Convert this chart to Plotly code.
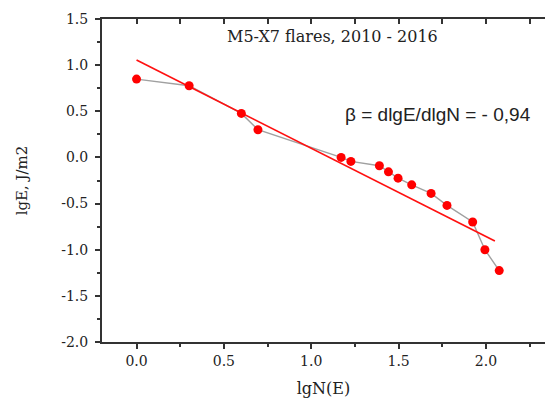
import plotly.graph_objects as go

lgN = [0.0, 0.301, 0.600, 0.695, 1.171, 1.227, 1.390, 1.442, 1.497, 1.575, 1.686, 1.777, 1.924, 1.994, 2.076]
lgE = [0.849, 0.777, 0.477, 0.30, 0.0, -0.043, -0.09, -0.156, -0.225, -0.297, -0.39, -0.52, -0.70, -1.0, -1.226]
fit_x = [0.0, 2.051]
fit_y = [1.055, -0.905]

title_text = "M5-X7 flares, 2010 - 2016"
beta_text = "β = dlgE/dlgN = - 0,94"
xtick_vals = [0.0, 0.5, 1.0, 1.5, 2.0]
xtick_text = ["0.0", "0.5", "1.0", "1.5", "2.0"]
ytick_vals = [1.5, 1.0, 0.5, 0.0, -0.5, -1.0, -1.5, -2.0]
ytick_text = ["1.5", "1.0", "0.5", "0.0", "-0.5", "-1.0", "-1.5", "-2.0"]

serif = "DejaVu Serif, serif"
sans = "Liberation Sans, Arial, sans-serif"
axcol = "#333333"
txtcol = "#222222"

fig = go.Figure()
fig.add_trace(go.Scatter(x=lgN, y=lgE, mode="lines",
                         line=dict(color="#a0a0a0", width=1.4), showlegend=False))
fig.add_trace(go.Scatter(x=fit_x, y=fit_y, mode="lines",
                         line=dict(color="#ff1010", width=1.7), showlegend=False))
fig.add_trace(go.Scatter(x=lgN, y=lgE, mode="markers",
                         marker=dict(color="#ff0000", size=9), showlegend=False))
fig.add_trace(go.Scatter(x=[0], y=[0], xaxis="x2", mode="markers",
                         marker=dict(opacity=0), showlegend=False, hoverinfo="skip"))

xr = [-0.1977, 2.338]
fig.update_layout(
    width=545, height=398,
    margin=dict(l=102, r=0, t=19, b=56),
    plot_bgcolor="white", paper_bgcolor="white",
    xaxis=dict(range=xr, tickvals=xtick_vals, ticktext=xtick_text,
               showline=True, linecolor=axcol, linewidth=2,
               ticks="outside", ticklen=5, tickwidth=1.5, tickcolor=axcol,
               minor=dict(tickvals=[0.25, 0.75, 1.25, 1.75, 2.25], ticks="outside",
                          ticklen=3, tickwidth=1.5, tickcolor=axcol),
               showgrid=False, zeroline=False,
               tickfont=dict(family=serif, size=14, color=txtcol),
               title=dict(text="lgN(E)", font=dict(family=serif, size=16, color=txtcol),
                          standoff=16)),
    xaxis2=dict(range=xr, overlaying="x", side="top", showline=True,
                linecolor=axcol, linewidth=2, showticklabels=False,
                tickvals=[0.0, 0.25, 0.5, 0.75, 1.0, 1.25, 1.5, 1.75, 2.0, 2.25],
                ticks="inside", ticklen=5, tickwidth=1.5, tickcolor=axcol,
                showgrid=False, zeroline=False),
    yaxis=dict(range=[-2.0, 1.5], tickvals=ytick_vals, ticktext=ytick_text,
               showline=True, linecolor=axcol, linewidth=2,
               ticks="outside", ticklen=5, tickwidth=1.5, tickcolor=axcol,
               minor=dict(tickvals=[1.25, 0.75, 0.25, -0.25, -0.75, -1.25, -1.75],
                          ticks="outside", ticklen=3, tickwidth=1.5, tickcolor=axcol),
               showgrid=False, zeroline=False, ticklabelstandoff=4,
               tickfont=dict(family=serif, size=14, color=txtcol),
               title=dict(text="lgE, J/m2", font=dict(family=serif, size=15, color=txtcol),
                          standoff=30)),
    annotations=[
        dict(text=title_text, xref="paper", yref="paper", x=(332 - 102) / 443, y=(398 - 56 - 37) / 323,
             showarrow=False, xanchor="center", yanchor="middle",
             font=dict(family=serif, size=16, color=txtcol)),
        dict(text=beta_text, xref="x", yref="y", x=1.725, y=0.47,
             showarrow=False, xanchor="center", yanchor="middle",
             font=dict(family=sans, size=19, color=txtcol)),
    ],
)

fig.write_html("out.html")
